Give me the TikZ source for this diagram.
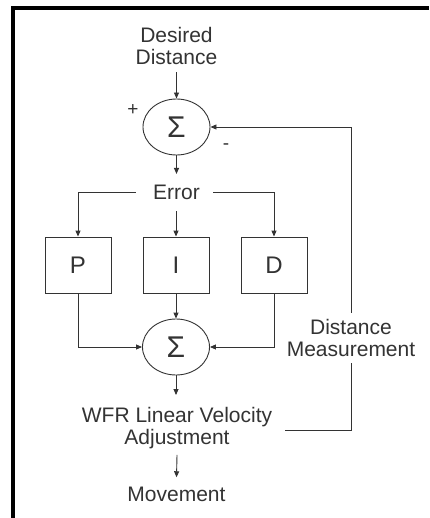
\documentclass[tikz,border=0pt]{standalone}
\usepackage{fontspec}
\setmainfont{Liberation Sans}
\usetikzlibrary{arrows.meta,shapes.geometric}
\definecolor{ink}{HTML}{333333}
\begin{document}
\begin{tikzpicture}[x=1pt,y=-1pt,
  txt/.style={text=ink,font=\fontsize{21}{22}\selectfont,align=center,inner xsep=0pt},
  sumnode/.style={ellipse,draw=ink,line width=0.9pt,minimum width=67pt,minimum height=56pt,inner sep=0pt,text=ink,font=\fontsize{30}{32}\selectfont},
  blk/.style={rectangle,draw=ink,line width=0.9pt,minimum width=66pt,minimum height=56pt,inner sep=0pt,text=ink,font=\fontsize{24}{26}\selectfont},
  ln/.style={draw=ink,line width=0.9pt},
  arr/.style={ln,-{Triangle[length=6pt,width=5pt]}},
  sgn/.style={text=ink,font=\fontsize{19}{20}\selectfont,inner sep=0pt}]
\useasboundingbox (0,0) rectangle (429,518);
\fill[white] (0,0) rectangle (429,518);
% frame (partial, as in reference)
\draw[line width=3.5pt,black] (13,518) -- (13,8) -- (429,8);

\node[txt,inner ysep=7.5pt] (des) at (176.5,45.9) {Desired\\Distance};
\node[sumnode] (s1) at (176.5,127) {Σ};
\node[sgn] (plus) at (133,110.5) {+};
\node[sgn] (minus) at (226,147) {-};
\node[txt,inner ysep=11pt] (err) at (176.5,192.5) {Error};
\node[blk] (P) at (78,265) {P};
\node[blk] (I) at (176,265) {I};
\node[blk] (D) at (274,265) {D};
\node[sumnode] (s2) at (176,347) {Σ};
\node[txt,inner ysep=12pt] (wfr) at (177,428) {WFR Linear Velocity\\Adjustment};
\node[txt,inner ysep=10pt] (mov) at (176.5,494.8) {Movement};
\node[txt,inner ysep=6pt] (dm) at (351,337.8) {Distance\\Measurement};

\draw[arr] (des.south) -- (s1.north);
\draw[arr] (s1.south) -- (s1.south |- err.north);
\draw[arr] ([xshift=-17pt]err.west) -| (P.north);
\draw[arr] ([xshift=13pt]err.east) -| (D.north);
\draw[arr] (I.north |- err.south) -- (I.north);
\draw[arr] (I.south) -- (s2.north);
\draw[arr] (P.south) |- (s2.west);
\draw[arr] (D.south) |- (s2.east);
\draw[arr] (s2.south) -- (s2.south |- wfr.north);
\draw[arr] ([yshift=6pt]wfr.south) -- (mov.north);
\draw[ln] ([xshift=13pt,yshift=-2pt]wfr.east) -| (dm.south);
\draw[arr] (dm.north) |- (s1.east);
\end{tikzpicture}
\end{document}
